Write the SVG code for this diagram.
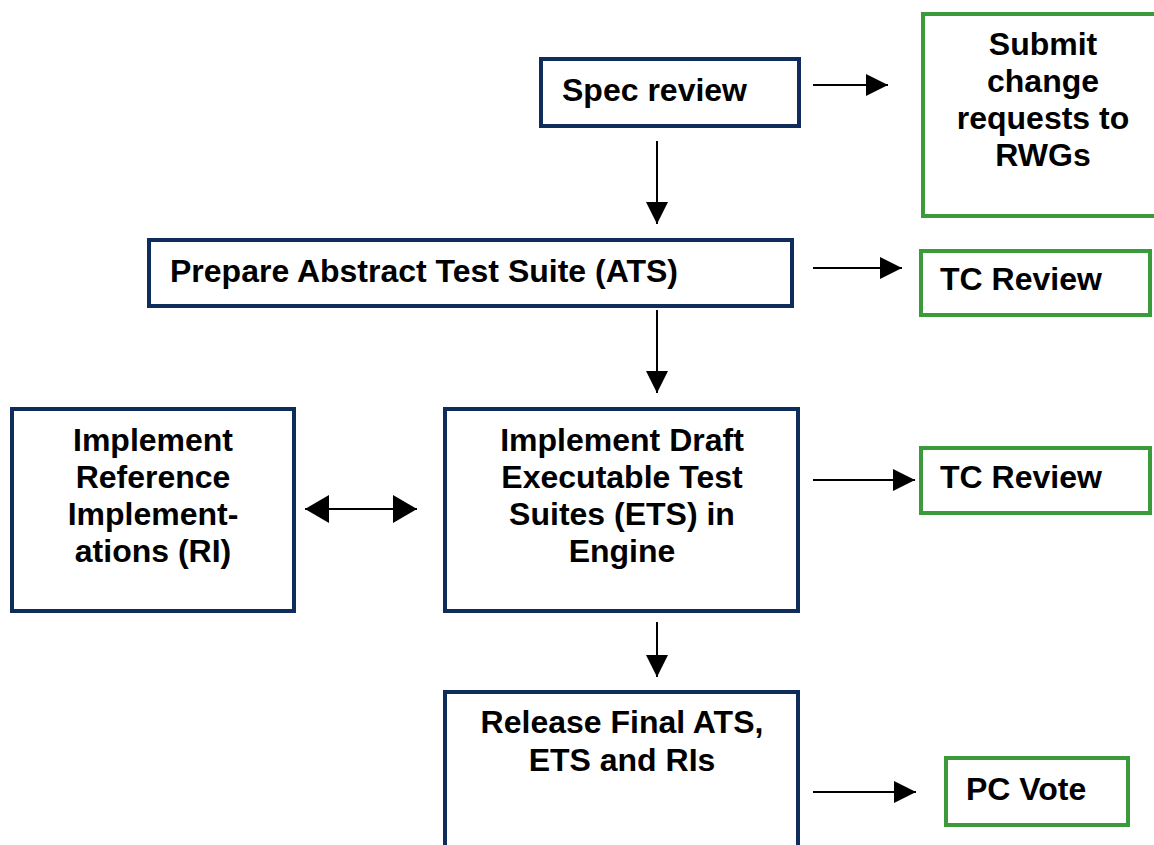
<svg xmlns="http://www.w3.org/2000/svg" width="1154" height="845" viewBox="0 0 1154 845">
<style>
.n{fill:#fff;stroke:#0f2d5c;stroke-width:4}
.g{fill:#fff;stroke:#3b9b3b;stroke-width:4}
.t{font-family:"Liberation Sans",Arial,sans-serif;font-weight:bold;font-size:32px;fill:#000}
.c{text-anchor:middle}
.a{stroke:#000;stroke-width:2;fill:none;marker-end:url(#ah)}
</style>
<defs>
<marker id="ah" markerUnits="userSpaceOnUse" markerWidth="22" markerHeight="22" refX="22" refY="11" orient="auto-start-reverse" viewBox="0 0 22 22">
<path d="M0,0 L22,11 L0,22 z" fill="#000"/>
</marker>
<marker id="ah2" markerUnits="userSpaceOnUse" markerWidth="24" markerHeight="28" refX="24" refY="14" orient="auto-start-reverse" viewBox="0 0 24 28">
<path d="M0,0 L24,14 L0,28 z" fill="#000"/>
</marker>
</defs>
<rect width="1154" height="845" fill="#fff"/>
<g id="connectors">
<line class="a" x1="813" y1="85" x2="888" y2="85"/>
<line class="a" x1="657" y1="141" x2="657" y2="224"/>
<line class="a" x1="813" y1="268" x2="902" y2="268"/>
<line class="a" x1="657" y1="310" x2="657" y2="393"/>
<line stroke="#000" stroke-width="2" x1="305" y1="509" x2="417" y2="509" marker-start="url(#ah2)" marker-end="url(#ah2)"/>
<line class="a" x1="813" y1="480" x2="915" y2="480"/>
<line class="a" x1="657" y1="622" x2="657" y2="677"/>
<line class="a" x1="813" y1="792" x2="916" y2="792"/>
</g>
<g id="spec-review">
<rect class="n" x="541" y="59" width="258" height="67"/>
<text class="t" x="562" y="101">Spec review</text>
</g>
<g id="submit-change">
<rect class="g" x="923" y="14" width="250" height="202"/>
<text class="t c" x="1043" y="55">Submit</text>
<text class="t c" x="1043" y="92">change</text>
<text class="t c" x="1043" y="129">requests to</text>
<text class="t c" x="1043" y="166">RWGs</text>
</g>
<g id="prepare-ats">
<rect class="n" x="149" y="240" width="643" height="66"/>
<text class="t" x="170" y="282">Prepare Abstract Test Suite (ATS)</text>
</g>
<g id="tc-review-1">
<rect class="g" x="921" y="251" width="229" height="64"/>
<text class="t" x="940" y="290">TC Review</text>
</g>
<g id="implement-ri">
<rect class="n" x="12" y="409" width="282" height="202"/>
<text class="t c" x="153" y="451">Implement</text>
<text class="t c" x="153" y="488">Reference</text>
<text class="t c" x="153" y="525">Implement-</text>
<text class="t c" x="153" y="562">ations (RI)</text>
</g>
<g id="implement-ets">
<rect class="n" x="445" y="409" width="353" height="202"/>
<text class="t c" x="622" y="451">Implement Draft</text>
<text class="t c" x="622" y="488">Executable Test</text>
<text class="t c" x="622" y="525">Suites (ETS) in</text>
<text class="t c" x="622" y="562">Engine</text>
</g>
<g id="tc-review-2">
<rect class="g" x="921" y="448" width="229" height="65"/>
<text class="t" x="940" y="488">TC Review</text>
</g>
<g id="release">
<rect class="n" x="445" y="692" width="353" height="180"/>
<text class="t c" x="622" y="733">Release Final ATS,</text>
<text class="t c" x="622" y="771">ETS and RIs</text>
</g>
<g id="pc-vote">
<rect class="g" x="946" y="758" width="182" height="67"/>
<text class="t" x="966" y="800">PC Vote</text>
</g>
</svg>
